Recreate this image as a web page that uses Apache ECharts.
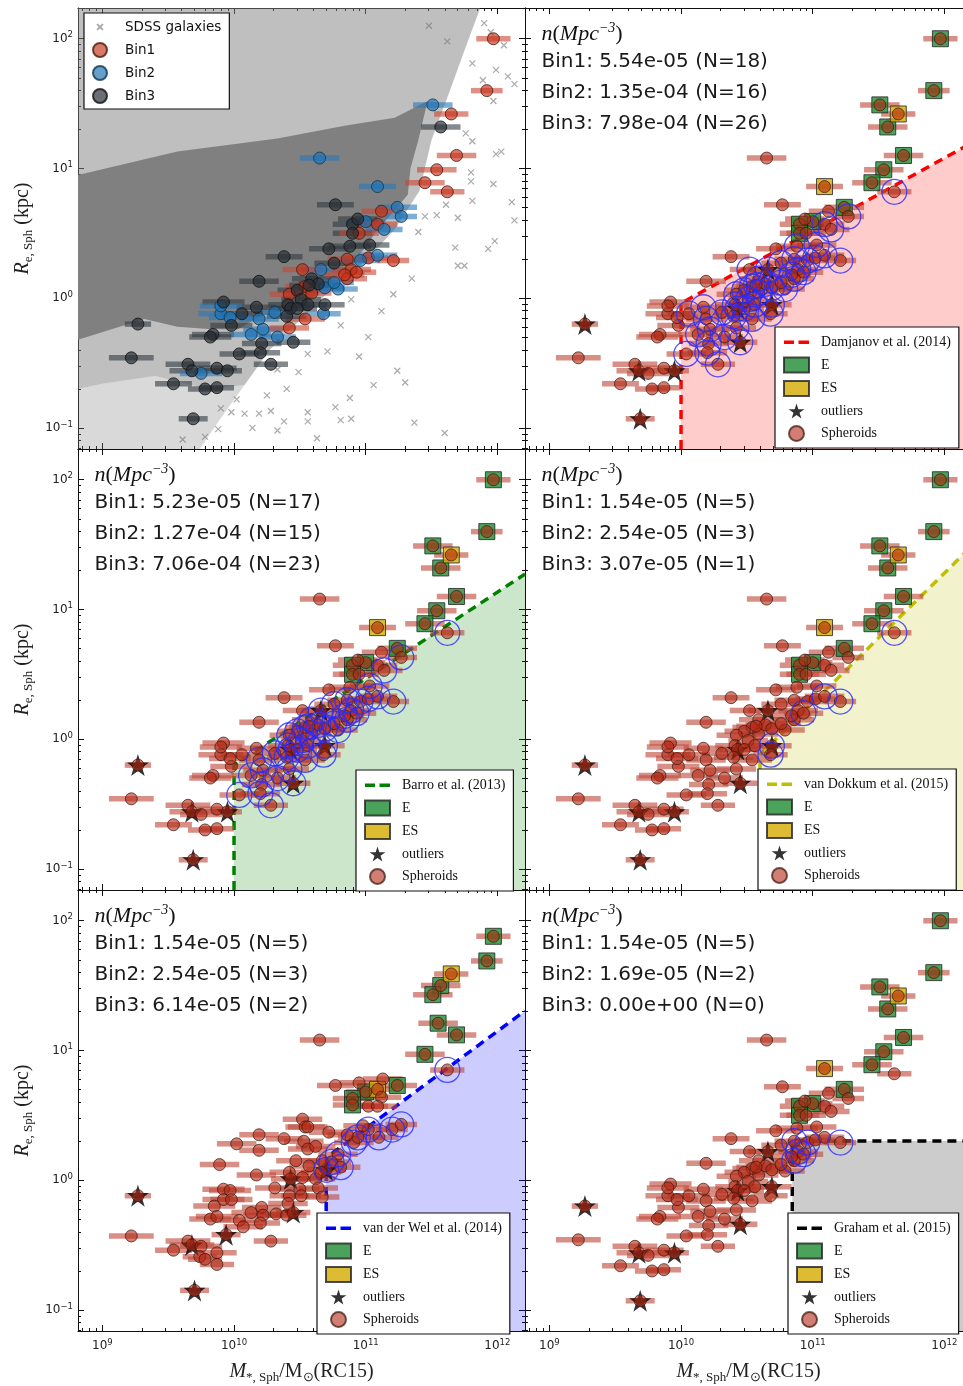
<!DOCTYPE html>
<html><head><meta charset="utf-8">
<script src="https://cdn.jsdelivr.net/npm/echarts@6/dist/echarts.min.js"></script>
<style>html,body{margin:0;padding:0;background:#fff}#c{width:963px;height:1386px}</style>
</head><body><div id="c"></div>
<script>
// ---------------- DATA (log10 units) ----------------
const massTickExponents = [9, 10, 11, 12];
const radiusTickExponents = [-1, 0, 1, 2];
const logMassRange = [8.815, 12.21];
const logRadiusRange = [-1.163, 2.237];

// Spheroids (RC15 masses), log10(M*/Msun), log10(Re/kpc)
const galaxyLogMass = [
 11.97,11.92,11.51,11.65,11.57,11.69,11.54,11.45,11.62,10.65,
 11.09,10.77,11.24,11.12,11.27,11.00,10.90,10.94,11.09,11.14,
 10.90,10.95,11.03,10.88,10.72,10.38,10.19,10.66,10.76,10.86,
 10.96,11.02,11.09,11.21,10.52,10.89,10.93,10.79,10.86,10.59,
 10.64,10.54,10.48,10.59,10.69,10.42,10.51,10.56,10.41,10.43,
 10.69,10.68,10.54,10.40,10.31,10.19,10.17,10.06,9.98,9.92,
 9.90,9.97,9.84,9.82,10.22,10.13,10.33,10.42,10.45,10.21,
 10.20,10.04,10.28,9.27,9.22,9.65,9.68,9.75,9.87,9.95,
 9.54,9.78,9.87,9.69,10.84,10.76,10.57,10.48,9.90];
const galaxyLogRe = [
 2.00,1.60,1.49,1.42,1.32,1.10,0.99,0.89,0.82,1.08,
 0.86,0.72,0.70,0.67,0.63,0.59,0.57,0.61,0.57,0.53,
 0.50,0.50,0.41,0.40,0.38,0.32,0.13,0.22,0.27,0.30,
 0.29,0.31,0.33,0.29,0.22,0.22,0.20,0.07,0.15,0.15,
 0.11,0.09,0.06,0.04,0.08,0.03,-0.01,-0.05,-0.05,-0.08,
 -0.05,-0.12,-0.16,-0.14,-0.11,-0.16,-0.07,-0.12,-0.21,-0.03,
 -0.12,-0.15,-0.28,-0.30,-0.24,-0.28,-0.30,-0.23,-0.34,-0.35,
 -0.42,-0.43,-0.51,-0.20,-0.46,-0.51,-0.56,-0.58,-0.54,-0.56,
 -0.66,-0.70,-0.69,-0.93,0.18,0.12,0.10,-0.08,-0.06];
const galaxyType = [
 'E','E','E','ES','E','E','E','E','S','S',
 'ES','S','E','S','S','E','E','S','S','S',
 'E','S','S','S','S','S','S','O','S','S',
 'S','S','S','S','S','S','S','S','S','S',
 'S','S','S','S','S','S','S','S','S','O',
 'O','S','S','S','S','S','S','S','S','S',
 'S','S','S','S','S','S','S','S','O','S',
 'S','S','S','O','S','S','O','S','S','O',
 'S','S','S','O','S','S','S','S','S'];
const galaxyBin = [
 1,1,2,1,3,1,1,1,1,2, 2,3,2,1,2,2,3,3,1,2, 3,1,3,3,3,3,3,2,3,1,
 2,1,2,1,1,1,1,2,1,3, 3,1,3,1,2,1,3,3,3,3, 3,2,1,3,2,2,3,3,3,3,
 2,2,3,3,2,2,2,1,3,3, 3,3,3,3,3,3,3,2,3,3, 3,3,3,3,1,2,3,3,2];
const galaxyLogMassErr = [
 .13,.12,.15,.13,.15,.15,.15,.15,.13,.15, .14,.14,.15,.15,.12,.15,.15,.15,.15,.14,
 .15,.15,.15,.16,.15,.14,.15,.15,.15,.15, .15,.15,.15,.12,.15,.15,.15,.15,.15,.15,
 .15,.15,.15,.15,.15,.15,.15,.15,.15,.15, .15,.13,.15,.15,.15,.15,.15,.16,.16,.16,
 .17,.16,.16,.16,.15,.15,.14,.15,.13,.15, .15,.15,.13,.10,.17,.17,.17,.16,.15,.11,
 .14,.13,.13,.11,.15,.15,.15,.15,.16];

// van der Wel panel sample
const vdwLogMass = [
 11.97,11.92,11.65,11.57,11.51,11.55,11.69,11.45,11.62,10.65,
 10.77,10.95,11.13,11.24,11.09,11.00,10.90,11.12,10.90,11.02,
 11.09,10.52,10.54,10.56,10.72,10.19,10.38,10.02,10.19,10.53,
 10.56,10.62,9.89,10.17,10.47,10.42,10.43,10.52,10.57,10.62,
 10.64,10.67,10.31,10.42,10.50,10.51,9.92,9.97,9.92,9.98,
 9.85,10.21,10.13,10.22,10.32,10.40,10.45,10.41,9.82,9.87,
 10.04,10.07,10.20,9.27,9.22,9.94,9.65,9.68,9.75,9.54,
 9.87,9.74,9.78,9.87,10.28,9.70,10.79,10.74,10.81,10.91,
 10.94,11.02,11.10,11.20,11.27,10.86,10.98,10.70,10.67,10.66];
const vdwLogRe = [
 1.88,1.69,1.59,1.50,1.43,1.21,1.12,0.97,0.85,1.08,
 0.73,0.75,0.78,0.73,0.70,0.68,0.63,0.64,0.58,0.57,
 0.57,0.47,0.41,0.41,0.37,0.35,0.32,0.28,0.23,0.30,
 0.24,0.26,0.12,0.04,0.15,0.06,0.01,0.02,0.11,0.01,
 -0.06,-0.13,-0.06,-0.12,-0.07,-0.12,-0.07,-0.08,-0.15,-0.15,
 -0.20,-0.21,-0.25,-0.27,-0.26,-0.27,-0.25,-0.18,-0.30,-0.28,
 -0.31,-0.36,-0.33,-0.12,-0.43,-0.42,-0.47,-0.50,-0.51,-0.54,
 -0.56,-0.59,-0.61,-0.65,-0.47,-0.85,0.20,0.14,0.10,0.29,
 0.33,0.39,0.33,0.39,0.43,0.35,0.42,0.08,0.15,0.06];
const vdwType = [
 'E','E','ES','E','E','E','E','E','S','S',
 'S','S','S','E','ES','E','E','S','E','S',
 'S','S','S','S','S','S','S','S','S','S',
 'S','S','S','S','S','S','O','S','S','S',
 'S','S','S','S','S','S','S','S','S','S',
 'S','S','S','S','S','S','O','S','S','S',
 'S','S','S','O','S','O','S','O','S','S',
 'S','S','S','S','S','O','S','S','S','S',
 'S','S','S','S','S','S','S','O','S','S'];
const vdwLogMassErr = [
 .13,.12,.13,.15,.15,.15,.15,.15,.13,.15, .14,.15,.15,.15,.14,.15,.15,.15,.15,.15,
 .15,.15,.15,.15,.15,.15,.14,.15,.15,.15, .15,.15,.15,.15,.15,.15,.15,.15,.15,.15,
 .15,.13,.15,.15,.15,.15,.16,.16,.16,.16, .16,.15,.15,.15,.15,.15,.13,.15,.16,.16,
 .15,.15,.15,.10,.17,.11,.17,.17,.16,.14, .15,.13,.13,.13,.13,.11,.15,.15,.15,.15,
 .15,.15,.15,.12,.12,.15,.15,.15,.15,.15];

// SDSS galaxies: dense core outline, upper / lower envelope outlines, isolated galaxies
const sdssCoreLogMass = [8.815,9.57,10.33,10.84,11.22,11.47,11.40,11.34,11.32,11.24,11.09,10.99,10.84,10.71,10.58,10.46,10.33,10.20,10.03,9.83,9.57,9.32,9.07,8.815];
const sdssCoreLogRe   = [0.95,1.13,1.23,1.33,1.39,1.52,1.22,1.00,0.80,0.70,0.53,0.38,0.22,0.09,-0.01,-0.03,-0.11,-0.14,-0.24,-0.24,-0.22,-0.16,-0.24,-0.32];
const sdssUpperEnvLogMass = [8.815,11.87,11.75,11.64,11.50,11.41,11.22,10.99,10.73,10.50,10.27,10.08,9.80,9.40,9.00,8.815];
const sdssUpperEnvLogRe   = [2.237,2.237,1.91,1.60,1.22,0.83,0.53,0.28,0.06,-0.17,-0.40,-0.67,-0.70,-0.60,-0.66,-0.70];
const sdssLowerEnvLogMass = [8.815,9.00,9.40,9.80,10.08,9.89,9.74,8.815];
const sdssLowerEnvLogRe   = [-0.70,-0.66,-0.60,-0.70,-0.67,-0.94,-1.163,-1.163];
const sdssSparseLogMass = [11.81,11.99,11.89,12.08,11.97,12.13,11.76,11.81,11.99,12.03,11.80,11.80,11.97,11.81,12.11,11.61,11.54,11.45,11.70,12.13,
 11.40,11.68,11.70,11.75,11.93,11.98,11.35,11.21,11.12,10.89,10.81,10.71,10.56,10.49,10.33,11.24,11.30,11.06,10.88,10.77,10.89,10.81,10.56,10.56,10.38,10.28,10.19,10.08,11.37,11.60,10.63,10.33,10.14,9.98,9.88,9.78,9.61,
 11.95,12.05,11.90,11.62,11.48,11.02,10.95,10.40,10.25,10.02,9.90];
const sdssSparseLogRe = [1.81,1.76,1.68,1.71,1.52,1.65,1.27,1.21,1.11,1.13,0.97,0.90,0.88,0.75,0.74,0.72,0.64,0.63,0.62,0.60,
 0.51,0.39,0.25,0.25,0.38,0.44,0.15,0.03,-0.10,-0.01,-0.21,-0.41,-0.43,-0.57,-0.55,-0.56,-0.65,-0.67,-0.77,-0.84,-0.93,-0.94,-0.88,-0.95,-0.95,-0.87,-0.89,-0.89,-0.96,-1.04,-1.08,-1.02,-1.00,-0.88,-1.01,-1.07,-1.09,
 2.05,1.95,2.12,1.98,2.10,-0.30,-0.45,-0.70,-0.75,-0.78,-0.85];

// Compactness criteria (boundary vertices, log units)
const criteriaNames = ['Damjanov et al. (2014)', 'Barro et al. (2013)', 'van Dokkum et al. (2015)', 'van der Wel et al. (2014)', 'Graham et al. (2015)'];
const criteriaLogMass = [[10.0, 12.21], [10.0, 12.21], [10.6, 12.21], [10.7, 12.21], [10.845, 12.21]];
const criteriaLogRe   = [[-0.04, 1.198], [-0.2, 1.273], [-0.12, 1.49], [0.173, 1.305], [0.301, 0.301]];

const binLabels = ['Bin1', 'Bin2', 'Bin3'];
const binDensity = [
  ['5.54e-05', '1.35e-04', '7.98e-04'],
  ['5.23e-05', '1.27e-04', '7.06e-04'],
  ['1.54e-05', '2.54e-05', '3.07e-05'],
  ['1.54e-05', '2.54e-05', '6.14e-05'],
  ['1.54e-05', '1.69e-05', '0.00e+00']];
const binCount = [[18,16,26],[17,15,23],[5,3,1],[5,3,2],[5,2,0]];

// ---------------- STYLE / LAYOUT ----------------
const W = 447, H = 441;
const PANEL_LEFT = [78, 525, 78, 525, 78, 525];
const PANEL_TOP = [8, 8, 449, 449, 890, 890];
const LEGEND_POS = [[84, 13], [775, 327], [356, 770], [758, 769], [317, 1213], [788, 1213]];
const CRIT_LINE = ['#ff0000', '#008000', '#bfbf00', '#0000ff', '#000000'];
const CRIT_FILL = ['rgba(255,0,0,0.2)', 'rgba(0,128,0,0.2)', 'rgba(191,191,0,0.2)', 'rgba(0,0,255,0.2)', 'rgba(0,0,0,0.2)'];
const BIN_FILL = ['rgba(195,45,20,0.8)', 'rgba(30,115,180,0.85)', 'rgba(40,46,52,0.85)'];
const BIN_EDGE = ['#4a1a0e', '#123650', '#111'];
const BIN_BAR = ['rgba(200,70,50,0.6)', 'rgba(40,120,185,0.6)', 'rgba(50,58,66,0.6)'];
const STAR = 'path://M50,0L61.2,34.5L97.6,34.5L68.2,55.9L79.4,90.5L50,69.1L20.6,90.5L31.8,55.9L2.4,34.5L38.8,34.5Z';
const CROSS = 'path://M0,0L10,10M10,0L0,10';
const DASH_ICON = 'path://M0,-5.5M25,9.5M0,0h10v3.5h-10zM14.5,0h10.5v3.5h-10.5z';
const SANS = 'DejaVu Sans', SERIF = 'Liberation Serif';

function minorTicks(range) {
  const out = [];
  for (let n = Math.floor(range[0]) - 1; n <= Math.ceil(range[1]); n++)
    for (let k = 2; k <= 9; k++) { const v = n + Math.log10(k); if (v >= range[0] && v <= range[1]) out.push(v); }
  return out;
}
function expLabel(v) { const e = Math.round(v); return '{b|10}{s|' + (e < 0 ? '\u2212' + (-e) : e) + '}'; }
const tickRich = {
  b: { fontFamily: SANS, fontSize: 12, color: '#222', lineHeight: 16 },
  s: { fontFamily: SANS, fontSize: 8.5, color: '#222', lineHeight: 10, verticalAlign: 'top' }
};

const grids = [], xAxes = [], yAxes = [];
function axisDef(dim, g, pos, layer, showLabel) {
  const range = dim === 'x' ? logMassRange : logRadiusRange;
  const majors = dim === 'x' ? massTickExponents : radiusTickExponents;
  return {
    type: 'value', gridIndex: g, position: pos, min: range[0], max: range[1],
    axisLine: { show: layer === 0, onZero: false, lineStyle: { color: '#111', width: 1 } },
    axisTick: { show: true, inside: true, length: layer === 0 ? 6 : 3, customValues: layer === 0 ? majors : minorTicks(range), lineStyle: { color: '#111', width: 1 } },
    axisLabel: { show: showLabel, customValues: majors, formatter: expLabel, rich: tickRich, margin: dim === 'x' ? 7 : 5 },
    splitLine: { show: false }, minorTick: { show: false }, silent: true
  };
}
for (let p = 0; p < 6; p++) {
  for (let layer = 0; layer < 2; layer++) {
    grids.push({ left: PANEL_LEFT[p], top: PANEL_TOP[p], width: W, height: H, containLabel: false, outerBoundsMode: 'none' });
    const g = grids.length - 1;
    xAxes.push(axisDef('x', g, 'bottom', layer, layer === 0 && p >= 4));
    xAxes.push(axisDef('x', g, 'top', layer, false));
    yAxes.push(axisDef('y', g, 'left', layer, layer === 0 && p % 2 === 0));
    yAxes.push(axisDef('y', g, 'right', layer, false));
  }
}
const axIdx = p => 4 * p; // main-layer bottom x / left y axis of panel p

const series = [];
function polySeries(p, lm, lr, fill, z, name) {
  return { type: 'custom', name, xAxisIndex: axIdx(p), yAxisIndex: axIdx(p), z, silent: true,
    data: [[lm[0], lr[0]]], encode: { x: 0, y: 1 },
    renderItem: (params, api) => ({ type: 'polygon', shape: { points: lm.map((m, i) => api.coord([m, lr[i]])) }, style: { fill } }) };
}
function errSeries(p, M, R, E, colorFn, bins) {
  return { type: 'custom', xAxisIndex: axIdx(p), yAxisIndex: axIdx(p), z: 2, silent: true,
    data: M.map((m, i) => [m, R[i], E[i], bins ? bins[i] : 1]), encode: { x: 0, y: 1 },
    renderItem: (params, api) => {
      const m = api.value(0), r = api.value(1), e = api.value(2), b = api.value(3);
      const a = api.coord([m - e, r]), c = api.coord([m + e, r]);
      return { type: 'line', shape: { x1: a[0], y1: a[1], x2: c[0], y2: c[1] }, style: { stroke: colorFn(b), lineWidth: 5.5 } };
    } };
}

// Panel 0: SDSS + bins
series.push(polySeries(0, sdssUpperEnvLogMass, sdssUpperEnvLogRe, 'rgba(128,128,128,0.5)', 1, 'sdss-env-up'));
series.push(polySeries(0, sdssLowerEnvLogMass, sdssLowerEnvLogRe, 'rgba(128,128,128,0.3)', 1, 'sdss-env-low'));
series.push(polySeries(0, sdssCoreLogMass, sdssCoreLogRe, '#808080', 1, 'sdss-core'));
series.push({ type: 'scatter', name: 'SDSS galaxies', xAxisIndex: 0, yAxisIndex: 0, z: 1, symbol: CROSS, symbolSize: 6,
  itemStyle: { color: 'rgba(0,0,0,0)', borderColor: 'rgba(120,120,120,0.8)', borderWidth: 1.2 },
  data: sdssSparseLogMass.map((m, i) => [m, sdssSparseLogRe[i]]) });
series.push(errSeries(0, galaxyLogMass, galaxyLogRe, galaxyLogMassErr, b => BIN_BAR[b - 1], galaxyBin));
for (let b = 1; b <= 3; b++) {
  series.push({ type: 'scatter', name: binLabels[b - 1], xAxisIndex: 0, yAxisIndex: 0, z: 3, symbol: 'circle', symbolSize: 12,
    itemStyle: { color: BIN_FILL[b - 1], borderColor: BIN_EDGE[b - 1], borderWidth: 1 },
    data: galaxyLogMass.map((m, i) => [m, galaxyLogRe[i], galaxyBin[i]]).filter(d => d[2] === b) });
}

// Panels 1..5
for (let p = 1; p < 6; p++) {
  const ci = p - 1;
  const M = p === 4 ? vdwLogMass : galaxyLogMass;
  const R = p === 4 ? vdwLogRe : galaxyLogRe;
  const T = p === 4 ? vdwType : galaxyType;
  const E = p === 4 ? vdwLogMassErr : galaxyLogMassErr;
  const cm = criteriaLogMass[ci], cr = criteriaLogRe[ci];
  const ax = axIdx(p);
  series.push({ type: 'line', name: criteriaNames[ci], xAxisIndex: ax, yAxisIndex: ax, z: 1, silent: true, symbol: 'none',
    data: [[cm[0], logRadiusRange[0]], [cm[0], cr[0]], [cm[1], cr[1]]],
    itemStyle: { color: CRIT_LINE[ci] },
    lineStyle: { color: CRIT_LINE[ci], width: 3.5, type: [9, 6] },
    areaStyle: { color: CRIT_FILL[ci], origin: 'start', opacity: 1 } });
  series.push(errSeries(p, M, R, E, () => 'rgba(190,75,60,0.62)'));
  const pts = M.map((m, i) => [m, R[i], T[i]]);
  series.push({ type: 'scatter', name: 'E', xAxisIndex: ax, yAxisIndex: ax, z: 3, symbol: 'rect', symbolSize: 16,
    itemStyle: { color: '#1e8c32', borderColor: '#222', borderWidth: 1 }, data: pts.filter(d => d[2] === 'E') });
  series.push({ type: 'scatter', name: 'ES', xAxisIndex: ax, yAxisIndex: ax, z: 3, symbol: 'rect', symbolSize: 16,
    itemStyle: { color: '#d4aa00', borderColor: '#222', borderWidth: 1 }, data: pts.filter(d => d[2] === 'ES') });
  series.push({ type: 'scatter', name: 'outliers', xAxisIndex: ax, yAxisIndex: ax, z: 3, symbol: STAR, symbolSize: 22,
    itemStyle: { color: '#000' }, data: pts.filter(d => d[2] === 'O') });
  series.push({ type: 'scatter', name: 'Spheroids', xAxisIndex: ax, yAxisIndex: ax, z: 4, symbol: 'circle', symbolSize: 12,
    itemStyle: { color: 'rgba(180,40,20,0.75)', borderColor: 'rgba(60,25,15,0.9)', borderWidth: 1 }, data: pts });
  const inside = pts.filter(d => {
    if (d[0] < cm[0]) return false;
    const t = (d[0] - cm[0]) / (cm[1] - cm[0]);
    return d[1] <= cr[0] + t * (cr[1] - cr[0]);
  });
  series.push({ type: 'scatter', name: 'selected', xAxisIndex: ax, yAxisIndex: ax, z: 5, symbol: 'circle', symbolSize: 25,
    itemStyle: { color: 'rgba(0,0,0,0)', borderColor: '#2a2aff', borderWidth: 1.3 }, data: inside });
}

// Legends
const legends = [];
legends.push({ left: LEGEND_POS[0][0], top: LEGEND_POS[0][1], orient: 'vertical', z: 10, selectedMode: false,
  data: [{ name: 'SDSS galaxies', icon: 'path://M-7,-7M17,17M0,0L10,10M10,0L0,10' }, 'Bin1', 'Bin2', 'Bin3'],
  backgroundColor: '#fff', borderColor: '#111', borderWidth: 1.2, borderRadius: 0, padding: [6, 8, 5, 8],
  itemWidth: 22, itemHeight: 14, itemGap: 7,
  textStyle: { fontFamily: SANS, fontSize: 13.5, color: '#111', padding: [0, 0, 0, 9] } });
for (let p = 1; p < 6; p++) {
  legends.push({ left: LEGEND_POS[p][0], top: LEGEND_POS[p][1], orient: 'vertical', z: 10, selectedMode: false,
    data: [{ name: criteriaNames[p - 1], icon: DASH_ICON }, { name: 'E', icon: 'rect' }, { name: 'ES', icon: 'rect' }, 'outliers', 'Spheroids'],
    backgroundColor: '#fff', borderColor: '#111', borderWidth: 1.2, borderRadius: 0, padding: [8, 8, 6, 8],
    itemWidth: 25, itemHeight: 15, itemGap: 6.5,
    textStyle: { fontFamily: SERIF, fontSize: 14, color: '#111', padding: [0, 0, 0, 7] } });
}

// Text annotations
const graphic = [];
for (let p = 1; p < 6; p++) {
  const x = PANEL_LEFT[p] + 16.5, y0 = PANEL_TOP[p];
  graphic.push({ type: 'text', x, y: y0 + 26, z: 100, silent: true, style: {
    text: '{i|n}{r|(}{i|Mpc}{s|\u22123}{r|)}', verticalAlign: 'middle', align: 'left',
    rich: { i: { fontFamily: SERIF, fontStyle: 'italic', fontSize: 22, fill: '#111', lineHeight: 26 },
            r: { fontFamily: SERIF, fontSize: 22, fill: '#111', lineHeight: 26 },
            s: { fontFamily: SERIF, fontStyle: 'italic', fontSize: 14, fill: '#111', lineHeight: 14, verticalAlign: 'top' } } } });
  for (let b = 0; b < 3; b++) {
    graphic.push({ type: 'text', x, y: y0 + 54 + b * 31, z: 100, silent: true, style: {
      text: binLabels[b] + ': ' + binDensity[p - 1][b] + ' (N=' + binCount[p - 1][b] + ')',
      font: '20px "DejaVu Sans"', fill: '#1a1a1a', verticalAlign: 'middle', align: 'left' } });
  }
}
const yTitleRich = { i: { fontFamily: SERIF, fontStyle: 'italic', fontSize: 20, fill: '#222', lineHeight: 24 },
  sub: { fontFamily: SERIF, fontSize: 13, fill: '#222', lineHeight: 12, verticalAlign: 'bottom' },
  r: { fontFamily: SERIF, fontSize: 20, fill: '#222', lineHeight: 24 } };
for (let row = 0; row < 3; row++) {
  graphic.push({ type: 'text', x: 23, y: PANEL_TOP[row * 2] + H / 2, rotation: Math.PI / 2, z: 100, silent: true, style: {
    text: '{i|R}{sub|e, Sph}{r| (kpc)}', align: 'center', verticalAlign: 'middle', rich: yTitleRich } });
}
for (let col = 0; col < 2; col++) {
  graphic.push({ type: 'text', x: PANEL_LEFT[4 + col] + W / 2, y: 1372, z: 100, silent: true, style: {
    text: '{i|M}{sub|*, Sph}{r|/M}{sub|\u2299}{r|(RC15)}', align: 'center', verticalAlign: 'middle', rich: yTitleRich } });
}

const chart = echarts.init(document.getElementById('c'), null, { renderer: 'canvas' });
chart.setOption({
  animation: false, backgroundColor: '#fff',
  grid: grids, xAxis: xAxes, yAxis: yAxes, series, legend: legends, graphic
});
</script></body></html>
